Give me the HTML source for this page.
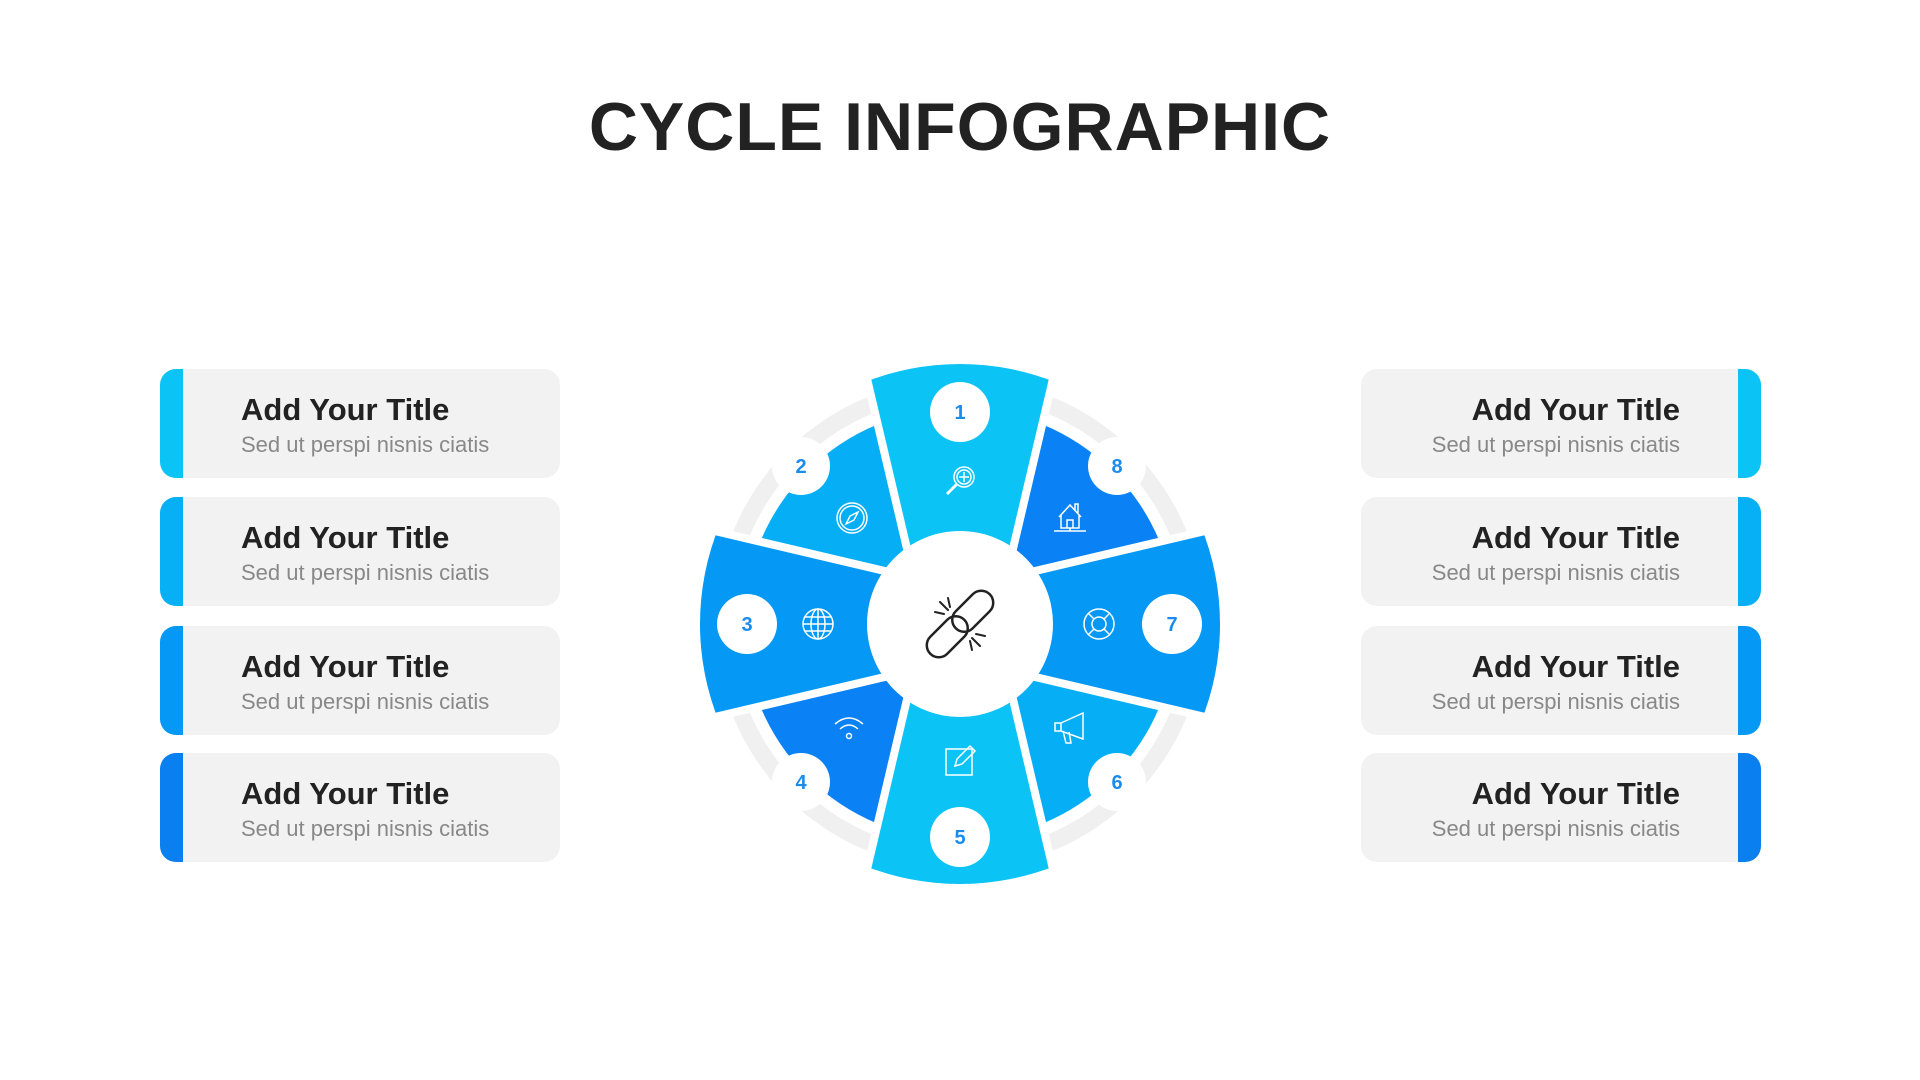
<!DOCTYPE html>
<html><head><meta charset="utf-8"><style>
body{margin:0;width:1920px;height:1080px;background:#fff;position:relative;overflow:hidden;font-family:"Liberation Sans",sans-serif}
h1{position:absolute;top:88px;left:0;width:1920px;text-align:center;margin:0;font-size:68px;font-weight:bold;color:#222;letter-spacing:1px}
.card{position:absolute;width:400px;height:109px;background:#f2f2f2;border-radius:16px;overflow:hidden}
.card .bar{position:absolute;top:0;width:23px;height:100%}
.card .t{position:absolute;top:23px;font-size:31px;font-weight:bold;color:#222}
.card .s{position:absolute;top:63px;font-size:22px;color:#888}
.L{left:160px}.L .bar{left:0}.L .t,.L .s{left:81px}
.R{left:1361px}.R .bar{right:0}.R .t,.R .s{right:81px;text-align:right}
</style></head><body>
<h1>CYCLE INFOGRAPHIC</h1>
<div class="card L" style="top:369px"><div class="bar" style="background:#0bc4f5"></div><div class="t">Add Your Title</div><div class="s">Sed ut perspi nisnis ciatis</div></div>
<div class="card L" style="top:497px"><div class="bar" style="background:#07b0f5"></div><div class="t">Add Your Title</div><div class="s">Sed ut perspi nisnis ciatis</div></div>
<div class="card L" style="top:626px"><div class="bar" style="background:#0598f5"></div><div class="t">Add Your Title</div><div class="s">Sed ut perspi nisnis ciatis</div></div>
<div class="card L" style="top:753px"><div class="bar" style="background:#0a7ff0"></div><div class="t">Add Your Title</div><div class="s">Sed ut perspi nisnis ciatis</div></div>
<div class="card R" style="top:369px"><div class="bar" style="background:#0bc4f5"></div><div class="t">Add Your Title</div><div class="s">Sed ut perspi nisnis ciatis</div></div>
<div class="card R" style="top:497px"><div class="bar" style="background:#07b0f5"></div><div class="t">Add Your Title</div><div class="s">Sed ut perspi nisnis ciatis</div></div>
<div class="card R" style="top:626px"><div class="bar" style="background:#0598f5"></div><div class="t">Add Your Title</div><div class="s">Sed ut perspi nisnis ciatis</div></div>
<div class="card R" style="top:753px"><div class="bar" style="background:#0a7ff0"></div><div class="t">Add Your Title</div><div class="s">Sed ut perspi nisnis ciatis</div></div>

<svg width="1920" height="1080" style="position:absolute;left:0;top:0">
<defs>
<clipPath id="big"><circle cx="0" cy="0" r="260"/></clipPath>
<clipPath id="sm"><circle cx="0" cy="0" r="216"/></clipPath>
</defs>
<g transform="translate(960,624)">
<circle r="245" fill="#f0f0f0"/>
<circle r="228" fill="#fff"/>
<g clip-path="url(#sm)">
<polygon points="-46,-46 -112,-328 -328,-112" fill="#05aef5"/>
<polygon points="-46,46 -112,328 -328,112" fill="#0a82f5"/>
<polygon points="46,46 112,328 328,112" fill="#05aef5"/>
<polygon points="46,-46 112,-328 328,-112" fill="#0a82f5"/>
</g>
<g clip-path="url(#big)">
<polygon points="0,148 -112,-328 112,-328" fill="#0bc4f5"/>
<polygon points="0,-148 -112,328 112,328" fill="#0bc4f5"/>
<polygon points="148,0 -328,-112 -328,112" fill="#0598f5"/>
<polygon points="-148,0 328,-112 328,112" fill="#0598f5"/>
</g>
<g fill="#0a6fb0" opacity="0.8">
<polygon points="-92,-244 -92,-228 -85,-228"/><polygon points="92,-244 92,-228 85,-228"/>
<polygon points="-92,244 -92,228 -85,228"/><polygon points="92,244 92,228 85,228"/>
<polygon points="-244,-92 -228,-92 -228,-85"/><polygon points="-244,92 -228,92 -228,85"/>
<polygon points="244,-92 228,-92 228,-85"/><polygon points="244,92 228,92 228,85"/>
</g>
<g stroke="#fff" stroke-width="8">
<line x1="-40" y1="-20" x2="-96" y2="-258"/><line x1="40" y1="-20" x2="96" y2="-258"/>
<line x1="-40" y1="20" x2="-96" y2="258"/><line x1="40" y1="20" x2="96" y2="258"/>
<line x1="-20" y1="-40" x2="-258" y2="-96"/><line x1="20" y1="-40" x2="258" y2="-96"/>
<line x1="-20" y1="40" x2="-258" y2="96"/><line x1="20" y1="40" x2="258" y2="96"/>
</g>
<circle r="93" fill="#fff"/>
<g fill="#fff">
<circle cx="0" cy="-212" r="30"/><circle cx="-159" cy="-158" r="29"/><circle cx="-213" cy="0" r="30"/><circle cx="-159" cy="158" r="29"/>
<circle cx="0" cy="213" r="30"/><circle cx="157" cy="158" r="29"/><circle cx="212" cy="0" r="30"/><circle cx="157" cy="-158" r="29"/>
</g>
<g fill="#1a8cf0" font-family="Liberation Sans,sans-serif" font-weight="bold" font-size="20" text-anchor="middle">
<text x="0" y="-205">1</text><text x="-159" y="-151">2</text><text x="-213" y="7">3</text><text x="-159" y="165">4</text>
<text x="0" y="220">5</text><text x="157" y="165">6</text><text x="212" y="7">7</text><text x="157" y="-151">8</text>
</g>
<g fill="none" stroke="#fff" stroke-width="1.5">
<g transform="translate(0,-143)"><circle cx="4" cy="-4" r="10"/><circle cx="4" cy="-4" r="7"/><line x1="4" y1="-9" x2="4" y2="1"/><line x1="-1" y1="-4" x2="9" y2="-4"/><line x1="-3" y1="3" x2="-13" y2="13" stroke-width="3"/></g>
<g transform="translate(-108,-106)"><circle r="15"/><circle r="12"/><polygon points="6,-6 -2,-2 -6,6 2,2"/></g>
<g transform="translate(-142,0)"><circle r="15"/><ellipse rx="7" ry="15"/><line x1="0" y1="-15" x2="0" y2="15"/><line x1="-15" y1="0" x2="15" y2="0"/><line x1="-13" y1="-7" x2="13" y2="-7"/><line x1="-13" y1="7" x2="13" y2="7"/></g>
<g transform="translate(-111,104)"><path d="M-14,-4 Q0,-16 14,-4 M-9,1 Q0,-7 9,1"/><circle cx="0" cy="8" r="2.5"/></g>
<g transform="translate(0,135)"><rect x="-14" y="-10" width="26" height="26"/><path d="M-5,7 L-3,0 L10,-13 L15,-8 L2,5 Z"/></g>
<g transform="translate(109,105)"><path d="M-8,-6 L14,-16 L14,10 L-8,2 Z M-14,-6 L-8,-6 L-8,2 L-14,2 Z M-6,2 L-3,14 L2,14 L0,3"/></g>
<g transform="translate(139,0)"><circle r="15"/><circle r="7"/><line x1="-5" y1="-5" x2="-11" y2="-11"/><line x1="5" y1="-5" x2="11" y2="-11"/><line x1="-5" y1="5" x2="-11" y2="11"/><line x1="5" y1="5" x2="11" y2="11"/></g>
<g transform="translate(110,-110)"><path d="M-11,3 L0,-9 L11,3 M-9,1 L-9,14 L9,14 L9,1 M-3,14 L-3,6 L3,6 L3,14 M-16,17 L16,17 M0,14 L0,17 M5,-4 L5,-10 L8,-10 L8,-1"/></g>
</g>
<g fill="none" stroke="#222" stroke-width="2.5" stroke-linecap="round">
<g transform="rotate(45)">
<rect x="-12" y="-42" width="24" height="48" rx="12"/>
<rect x="-12" y="-6" width="24" height="48" rx="12"/>
</g>
<path d="M-20,-22 L-12,-14 M-25,-12 L-16,-10 M-12,-26 L-10,-17 M20,22 L12,14 M25,12 L16,10 M12,26 L10,17" stroke-width="2"/>
</g>
</g>
</svg>
</body></html>
